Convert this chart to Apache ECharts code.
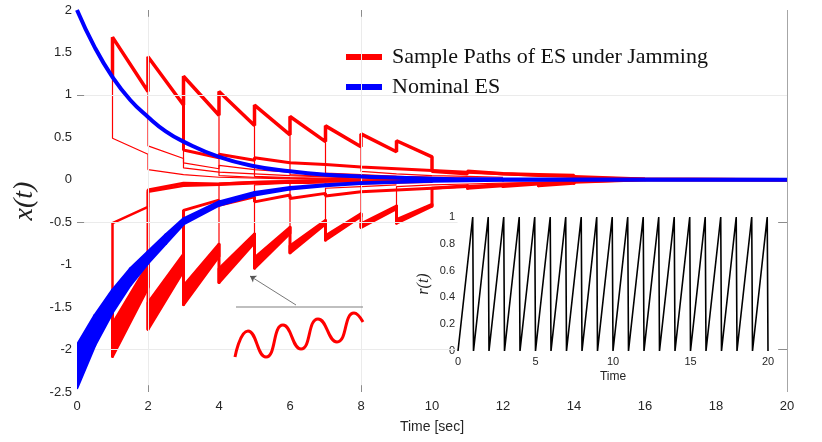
<!DOCTYPE html>
<html>
<head>
<meta charset="utf-8">
<script src="https://cdn.jsdelivr.net/npm/echarts@6/dist/echarts.min.js"></script>
<style>
  html, body { margin: 0; padding: 0; background: #fff; }
  #chart { width: 822px; height: 442px; }
</style>
</head>
<body>
<div id="chart"></div>
<script>
// ---- data ----
var timeTicks = [0, 2, 4, 6, 8, 10, 12, 14, 16, 18, 20];

// nominal ES: upper branch, and lower branch drawn as a dither band [t, hi, lo]
var nomT = [0, 0.5, 1, 1.5, 2, 2.5, 3, 4, 5, 6, 7, 8, 10, 12, 14, 20];
var nomUpper = [2.0, 1.56, 1.21, 0.94, 0.74, 0.57, 0.45, 0.27, 0.16, 0.10, 0.06, 0.04, 0.013, 0.005, 0.002, 0];
var nomLowerHi = [-1.95, -1.6, -1.3, -1.05, -0.85, -0.65, -0.46, -0.26, -0.15, -0.09, -0.06, -0.035, -0.012, -0.005, -0.002, 0];
var nomLowerLo = [-2.45, -1.95, -1.56, -1.24, -0.98, -0.75, -0.52, -0.3, -0.18, -0.11, -0.07, -0.045, -0.016, -0.006, -0.002, 0];

// sample paths under jamming, [t, x]
var pathTop = [[1, 1.21], [1, 1.68], [2, 1.04], [2, 1.45], [3, 0.88], [3, 1.22], [4, 0.76], [4, 1.04],
  [5, 0.64], [5, 0.88], [6, 0.53], [6, 0.745], [7, 0.45], [7, 0.635], [8, 0.39], [8, 0.54],
  [9, 0.33], [9, 0.46], [10, 0.27], [10, 0.1], [11, 0.07], [11, 0.1], [12, 0.07], [12, 0.09],
  [13, 0.06], [13, 0.08], [14, 0.05], [14, 0.02], [16, 0.005], [20, 0]];
var pathMidUp = [[3, 0.88], [3, 0.35], [4, 0.26], [4, 0.3], [5, 0.23], [5, 0.26], [6, 0.2], [6, 0.22],
  [7, 0.18], [7, 0.2], [8, 0.15], [8, 0.17], [9, 0.13], [9, 0.14], [10, 0.11], [10, 0.12],
  [11, 0.09], [12, 0.07], [13, 0.05], [14, 0.04], [16, 0.01], [20, 0]];
var pathMidLow = [[3, -1.07], [3, -0.36], [4, -0.24], [4, -0.3], [5, -0.2], [5, -0.26], [6, -0.18], [6, -0.22],
  [7, -0.16], [7, -0.19], [8, -0.14], [8, -0.16], [9, -0.12], [9, -0.13], [10, -0.1], [10, -0.11],
  [11, -0.08], [12, -0.06], [13, -0.04], [14, -0.03], [16, 0], [20, 0]];
var pathLowA = [[1, -1.43], [1, -0.51], [2, -0.32], [2, -0.14], [3, -0.07], [3, -0.09], [4, -0.06], [5, -0.04], [7, -0.02], [10, 0]];
var pathLowB = [[2, -1.27], [2, -0.12], [3, -0.04], [4, -0.05], [5, -0.03], [6, -0.02], [8, -0.01], [10, 0]];
// lower thick path with dither band [t, hi, lo]
var bandLow = [[1, -1.43, -1.43], [1, -1.7, -2.08], [2, -1.0, -1.27], [2, -1.45, -1.76], [3, -0.88, -1.07],
  [3, -1.25, -1.47], [4, -0.76, -0.9], [4, -1.05, -1.21], [5, -0.64, -0.74], [5, -0.92, -1.04],
  [6, -0.56, -0.63], [6, -0.78, -0.86], [7, -0.48, -0.52], [7, -0.66, -0.71], [8, -0.4, -0.43],
  [8, -0.52, -0.56], [9, -0.31, -0.34], [9, -0.47, -0.51], [10, -0.29, -0.31], [10, -0.1, -0.1],
  [11, -0.07, -0.07], [11, -0.1, -0.1], [12, -0.07, -0.07], [12, -0.08, -0.08], [13, -0.05, -0.05],
  [13, -0.07, -0.07], [14, -0.04, -0.04], [14, -0.02, -0.02], [16, 0, 0], [20, 0, 0]];
// thin branches
var thinPaths = [
  [[1, 1.21], [1, 0.49], [2, 0.3], [2, 0.12], [3, 0.06], [4, 0.03], [6, 0.01], [8, 0]],
  [[2, 1.04], [2, 0.4], [3, 0.25], [3, 0.14], [4, 0.09], [4, 0.11], [5, 0.07], [6, 0.05], [8, 0.02], [10, 0]],
  [[3, 0.88], [3, 0.2], [4, 0.13], [4, 0.17], [5, 0.12], [6, 0.09], [7, 0.07], [8, 0.05], [9, 0.04], [10, 0.03], [12, 0.01]],
  [[4, 0.76], [4, 0.05], [5, 0.03], [6, 0.02], [8, 0]],
  [[5, 0.64], [5, 0.04], [6, 0.025], [8, 0.01]],
  [[6, 0.53], [6, 0.06], [7, 0.04], [7, 0.05], [8, 0.03], [9, 0.02], [10, 0.02], [11, 0.01]],
  [[7, 0.45], [7, 0.08], [8, 0.06], [9, 0.04], [9, 0.05], [10, 0.03]],
  [[8, 0.39], [8, 0.1], [9, 0.07], [10, 0.05], [10, 0.06], [11, 0.04], [12, 0.03]],
  [[4, -0.9], [4, -0.04], [5, -0.02], [7, 0]],
  [[5, -0.74], [5, -0.06], [6, -0.04], [7, -0.05], [8, -0.03], [10, -0.01]],
  [[6, -0.63], [6, -0.03], [8, -0.01]],
  [[7, -0.52], [7, -0.1], [8, -0.08], [9, -0.06]],
  [[8, -0.43], [8, -0.05], [9, -0.04], [10, -0.03]],
  [[9, -0.34], [9, -0.08], [10, -0.06], [10, -0.07], [11, -0.05], [12, -0.04], [12, -0.05], [13, -0.03], [14, -0.02], [16, 0]]
];

// inset: jamming ramp r(t)
var rampTicks = [0, 5, 10, 15, 20];
var ramp = [[0, 0], [0.95, 1], [1, 0], [1.95, 1], [2, 0], [2.95, 1], [3, 0], [3.95, 1], [4, 0],
  [4.95, 1], [5, 0], [5.95, 1], [6, 0], [6.95, 1], [7, 0], [7.95, 1], [8, 0], [8.95, 1], [9, 0],
  [9.95, 1], [10, 0], [10.95, 1], [11, 0], [11.95, 1], [12, 0], [12.95, 1], [13, 0], [13.95, 1], [14, 0],
  [14.95, 1], [15, 0], [15.95, 1], [16, 0], [16.95, 1], [17, 0], [17.95, 1], [18, 0], [18.95, 1], [19, 0],
  [19.95, 1], [20, 0]];

// magnified dither detail (local units of the small inset)
var wave = [[0, 5], [13, 31], [31, 5], [48, 37], [66, 13], [83, 43], [102, 20], [119, 49], [128, 40]];
var waveBar = [[1, 55], [128, 55]];
var arrowFrom = [61, 57];
var arrowTo = [15, 86];

var RED = '#ff0000';
var BLUE = '#0000ff';
var NAME_RED = 'Sample Paths of ES under Jamming';
var NAME_BLUE = 'Nominal ES';

var nomLowerBand = nomT.map(function (t, i) { return [t, nomLowerHi[i], nomLowerLo[i]]; });
var nomUpperLine = nomT.map(function (t, i) { return [t, nomUpper[i]]; });

function bandSegment(params, api) {
  var i = params.dataIndexInside;
  if (i === 0) return null;
  var p0 = api.coord([api.value(0, i - 1), api.value(1, i - 1)]);
  var q0 = api.coord([api.value(0, i - 1), api.value(2, i - 1)]);
  var p1 = api.coord([api.value(0, i), api.value(1, i)]);
  var q1 = api.coord([api.value(0, i), api.value(2, i)]);
  var c = api.visual('color');
  return {
    type: 'polygon',
    shape: { points: [p0, p1, q1, q0] },
    style: { fill: c, stroke: c, lineWidth: 3, lineJoin: 'round' }
  };
}

function redLine(data, width) {
  return {
    name: NAME_RED, type: 'line', xAxisIndex: 0, yAxisIndex: 0,
    data: data, showSymbol: false, symbol: 'none', z: 3,
    lineStyle: { color: RED, width: width }, itemStyle: { color: RED }
  };
}

var tickDark = { color: '#8c8c8c', width: 1, type: 'solid' };
var gridFaint = { color: '#ebebeb', width: 1, type: 'solid' };

var series = [];

// faint grid lines and short ticks of the main axes
series.push({
  type: 'line', xAxisIndex: 0, yAxisIndex: 0, data: [[0, 0], [20, 0]],
  showSymbol: false, symbol: 'none', lineStyle: { opacity: 0 }, z: 1, silent: true,
  markLine: {
    silent: true, symbol: 'none', label: { show: false }, animation: false,
    lineStyle: gridFaint,
    data: [
      { xAxis: 2 }, { xAxis: 8 }, { yAxis: 1 },
      [{ coord: [0, -0.5] }, { coord: [10.72, -0.5] }],
      [{ coord: [0, -2] }, { coord: [10.72, -2] }],
      [{ coord: [2, 2], lineStyle: tickDark }, { coord: [2, 1.92] }],
      [{ coord: [8, 2], lineStyle: tickDark }, { coord: [8, 1.92] }],
      [{ coord: [2, -2.5], lineStyle: tickDark }, { coord: [2, -2.42] }],
      [{ coord: [8, -2.5], lineStyle: tickDark }, { coord: [8, -2.42] }],
      [{ coord: [0, 1], lineStyle: tickDark }, { coord: [0.2, 1] }],
      [{ coord: [0, -0.5], lineStyle: tickDark }, { coord: [0.2, -0.5] }],
      [{ coord: [19.75, -0.5], lineStyle: tickDark }, { coord: [20, -0.5] }],
      [{ coord: [19.75, -2], lineStyle: tickDark }, { coord: [20, -2] }],
      [{ coord: [20, 2], lineStyle: { color: '#a6a6a6', width: 1, type: 'solid' } }, { coord: [20, -2.5] }]
    ]
  }
});

thinPaths.forEach(function (p) { series.push(redLine(p, 1.2)); });
series.push(redLine(pathTop, 3.5));
series.push(redLine(pathMidUp, 3));
series.push(redLine(pathMidLow, 3));
series.push(redLine(pathLowA, 2.5));
series.push(redLine(pathLowB, 3));
series.push({
  name: NAME_RED, type: 'custom', xAxisIndex: 0, yAxisIndex: 0, z: 3,
  renderItem: bandSegment, data: bandLow, clip: true,
  encode: { x: 0, y: [1, 2] }, itemStyle: { color: RED }
});

// nominal ES on top
series.push({
  name: NAME_BLUE, type: 'line', xAxisIndex: 0, yAxisIndex: 0, z: 5,
  data: nomUpperLine, smooth: true, showSymbol: false, symbol: 'none',
  lineStyle: { color: BLUE, width: 4 }, itemStyle: { color: BLUE }
});
series.push({
  name: NAME_BLUE, type: 'custom', xAxisIndex: 0, yAxisIndex: 0, z: 5,
  renderItem: bandSegment, data: nomLowerBand, clip: true,
  encode: { x: 0, y: [1, 2] }, itemStyle: { color: BLUE }
});

// inset r(t)
series.push({
  type: 'line', xAxisIndex: 1, yAxisIndex: 1, data: ramp, showSymbol: false, symbol: 'none',
  lineStyle: { color: '#000', width: 1.6 }, z: 6
});

// magnified dither detail
series.push({
  type: 'line', xAxisIndex: 2, yAxisIndex: 2, data: wave, smooth: 0.55,
  showSymbol: false, symbol: 'none', lineStyle: { color: RED, width: 3 }, z: 6
});
series.push({
  type: 'line', xAxisIndex: 2, yAxisIndex: 2, data: waveBar, showSymbol: false, symbol: 'none',
  lineStyle: { color: '#808080', width: 1.2 }, z: 6,
  markLine: {
    silent: true, animation: false, label: { show: false },
    symbol: ['none', 'arrow'], symbolSize: 6,
    lineStyle: { color: '#555', width: 0.8, type: 'solid' },
    data: [[{ coord: arrowFrom }, { coord: arrowTo }]]
  }
});

var labelFont = { fontFamily: 'Liberation Sans', color: '#262626' };

var option = {
  animation: false,
  backgroundColor: '#fff',
  legend: {
    data: [NAME_RED, NAME_BLUE],
    orient: 'vertical', left: 341, top: 41, itemGap: 8,
    icon: 'rect', itemWidth: 36, itemHeight: 6,
    textStyle: { fontFamily: 'Liberation Serif', fontSize: 22, lineHeight: 22, color: '#111', padding: [0, 0, 0, 5] }
  },
  grid: [
    { left: 77, right: 35, top: 10, bottom: 50 },
    { left: 458, top: 217, width: 310, height: 134, show: true, backgroundColor: '#fff', borderWidth: 0 },
    { left: 235, top: 270, width: 130, height: 92 }
  ],
  xAxis: [
    {
      gridIndex: 0, type: 'value', min: 0, max: 20, interval: 2,
      name: 'Time [sec]', nameLocation: 'middle', nameGap: 28,
      nameTextStyle: { fontFamily: 'Liberation Sans', fontSize: 14, color: '#262626' },
      axisLine: { show: false }, axisTick: { show: false }, splitLine: { show: false },
      axisLabel: Object.assign({ fontSize: 13, margin: 8 }, labelFont)
    },
    {
      gridIndex: 1, type: 'value', min: 0, max: 20, interval: 5,
      name: 'Time', nameLocation: 'middle', nameGap: 20,
      nameTextStyle: { fontFamily: 'Liberation Sans', fontSize: 12, color: '#262626' },
      axisLine: { show: false }, axisTick: { show: false }, splitLine: { show: false },
      axisLabel: Object.assign({ fontSize: 11, margin: 5 }, labelFont)
    },
    { gridIndex: 2, type: 'value', min: 0, max: 130, show: false }
  ],
  yAxis: [
    {
      gridIndex: 0, type: 'value', min: -2.5, max: 2, interval: 0.5,
      name: 'x(t)', nameLocation: 'middle', nameGap: 38,
      nameTextStyle: { fontFamily: 'Liberation Serif', fontStyle: 'italic', fontSize: 28, color: '#222' },
      axisLine: { show: false }, axisTick: { show: false }, splitLine: { show: false },
      axisLabel: Object.assign({ fontSize: 13, margin: 5 }, labelFont)
    },
    {
      gridIndex: 1, type: 'value', min: 0, max: 1, interval: 0.2,
      name: 'r(t)', nameLocation: 'middle', nameGap: 26,
      nameTextStyle: { fontFamily: 'Liberation Serif', fontStyle: 'italic', fontSize: 16, color: '#222' },
      axisLine: { show: false }, axisTick: { show: false }, splitLine: { show: false },
      axisLabel: Object.assign({ fontSize: 11, margin: 3 }, labelFont)
    },
    { gridIndex: 2, type: 'value', min: 0, max: 92, show: false }
  ],
  series: series
};

var myChart = echarts.init(document.getElementById('chart'), null, { renderer: 'canvas' });
myChart.setOption(option);
window.addEventListener('resize', myChart.resize);
</script>
</body>
</html>
